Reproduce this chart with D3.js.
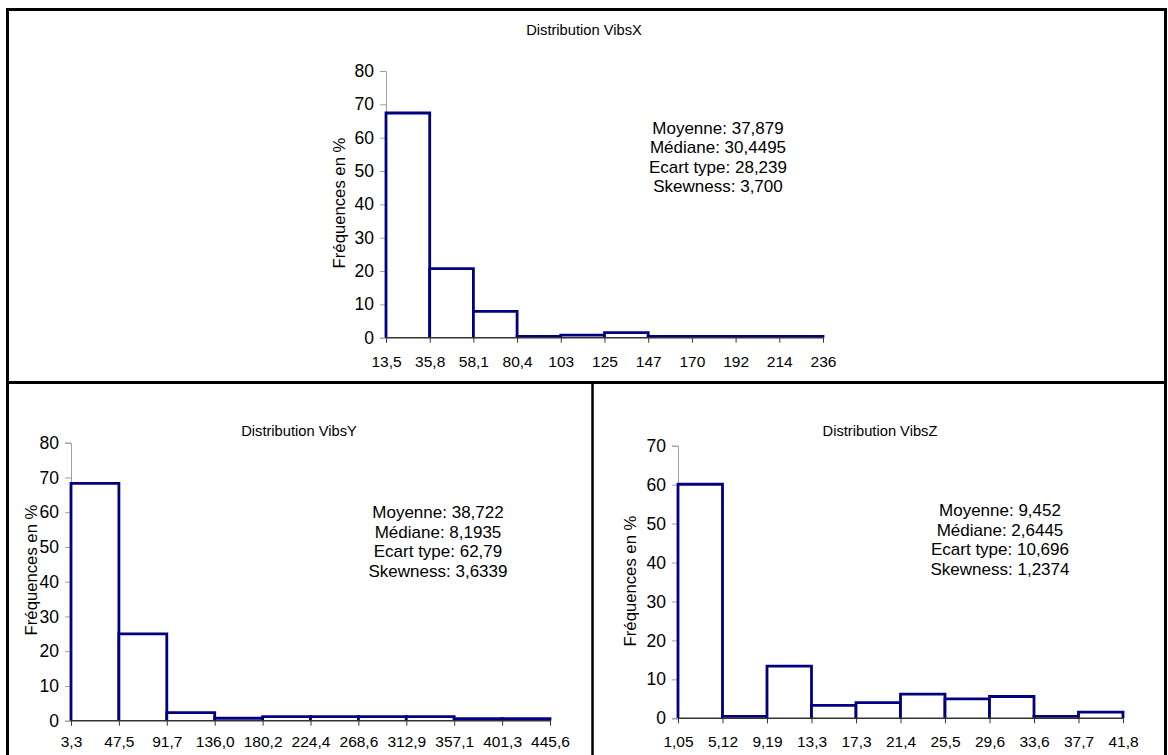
<!DOCTYPE html>
<html>
<head>
<meta charset="utf-8">
<script src="https://cdn.jsdelivr.net/npm/d3@7"></script>
<style>
  html, body { margin: 0; padding: 0; background: #fff; }
  svg { display: block; font-family: "Liberation Sans", Arial, sans-serif; }
</style>
</head>
<body>
<svg id="chart" width="1168" height="755"></svg>
<script>
// ---- Data ----
const edgesX = ["13,5", "35,8", "58,1", "80,4", "103", "125", "147", "170", "192", "214", "236"];
const freqX = [67.4, 20.7, 7.9, 0.4, 0.8, 1.5, 0.4, 0.4, 0.4, 0.4];
const statsX = ["Moyenne: 37,879", "Médiane: 30,4495", "Ecart type: 28,239", "Skewness: 3,700"];

const edgesY = ["3,3", "47,5", "91,7", "136,0", "180,2", "224,4", "268,6", "312,9", "357,1", "401,3", "445,6"];
const freqY = [68.3, 25.0, 2.3, 0.7, 1.2, 1.2, 1.2, 1.2, 0.6, 0.6];
const statsY = ["Moyenne: 38,722", "Médiane: 8,1935", "Ecart type: 62,79", "Skewness: 3,6339"];

const edgesZ = ["1,05", "5,12", "9,19", "13,3", "17,3", "21,4", "25,5", "29,6", "33,6", "37,7", "41,8"];
const freqZ = [60.1, 0.5, 13.4, 3.3, 4.0, 6.2, 5.0, 5.6, 0.5, 1.6];
const statsZ = ["Moyenne: 9,452", "Médiane: 2,6445", "Ecart type: 10,696", "Skewness: 1,2374"];

const titles = ["Distribution VibsX", "Distribution VibsY", "Distribution VibsZ"];
const yLabel = "Fréquences en %";
const yMaxes = [80, 80, 70];

// ---- Layout ----
const svg = d3.select("#chart");
const FONT = "Liberation Sans, Arial, sans-serif";

// panel borders
svg.append("rect").attr("x", 7.5).attr("y", 9.5).attr("width", 1158).attr("height", 760)
  .attr("fill", "none").attr("stroke", "#000").attr("stroke-width", 3);
svg.append("line").attr("x1", 7).attr("x2", 1166).attr("y1", 382.5).attr("y2", 382.5)
  .attr("stroke", "#000").attr("stroke-width", 3);
svg.append("line").attr("x1", 592.5).attr("x2", 592.5).attr("y1", 382).attr("y2", 760)
  .attr("stroke", "#000").attr("stroke-width", 2.5);

const panels = [
  { edges: edgesX, freq: freqX, stats: statsX, title: titles[0], yMax: yMaxes[0],
    x0: 386, x1: 823, y0: 337.7, y1: 71, titleX: 584, titleY: 35,
    ylabX: 339, ylabY: 203, statX: 718, statY: 133.5, xlabY: 367.5 },
  { edges: edgesY, freq: freqY, stats: statsY, title: titles[1], yMax: yMaxes[1],
    x0: 71, x1: 550, y0: 720.7, y1: 442.7, titleX: 299, titleY: 436,
    ylabX: 31, ylabY: 570, statX: 438, statY: 518, xlabY: 747.5 },
  { edges: edgesZ, freq: freqZ, stats: statsZ, title: titles[2], yMax: yMaxes[2],
    x0: 678, x1: 1123, y0: 718.3, y1: 445.7, titleX: 880, titleY: 436,
    ylabX: 630, ylabY: 581, statX: 1000, statY: 516, xlabY: 747.5 }
];

panels.forEach(p => {
  const n = p.freq.length;
  const x = d3.scaleLinear().domain([0, n]).range([p.x0, p.x1]);
  const y = d3.scaleLinear().domain([0, p.yMax]).range([p.y0, p.y1]);
  const g = svg.append("g");

  // title
  g.append("text").attr("x", p.titleX).attr("y", p.titleY)
    .attr("text-anchor", "middle").attr("font-size", 14.7).attr("fill", "#000").text(p.title);

  // y axis
  const yAxis = d3.axisLeft(y).tickValues(d3.range(0, p.yMax + 1, 10)).tickSize(6).tickPadding(6);
  const ya = g.append("g").attr("transform", `translate(${p.x0},0)`).call(yAxis);
  ya.select(".domain").attr("stroke", "#a0a0a0");
  ya.selectAll(".tick line").attr("stroke", "#a0a0a0");
  ya.selectAll("text").attr("font-size", 17.5).attr("fill", "#000").attr("font-family", FONT);

  // y label
  g.append("text").attr("transform", `translate(${p.ylabX},${p.ylabY}) rotate(-90)`)
    .attr("text-anchor", "middle").attr("dominant-baseline", "central")
    .attr("font-size", 16.7).attr("fill", "#000").text(yLabel);

  // bars (open at the bottom, outline on three sides)
  g.selectAll("path.bar").data(p.freq).join("path").attr("class", "bar")
    .attr("d", (d, i) => `M${x(i)},${y(0)}V${y(d)}H${x(i + 1)}V${y(0)}`)
    .attr("fill", "#fff").attr("stroke", "#000080").attr("stroke-width", 2.8)
    .attr("stroke-linejoin", "miter");

  // x axis
  const xAxis = d3.axisBottom(x).tickValues(d3.range(0, n + 1)).tickSize(5).tickPadding(10)
    .tickFormat(i => p.edges[i]);
  const xa = g.append("g").attr("transform", `translate(0,${p.y0})`).call(xAxis);
  xa.select(".domain").attr("stroke", "#333").attr("stroke-width", 1.5).attr("d", `M${p.x0},0H${p.x1}`);
  xa.selectAll(".tick line").attr("stroke", "#333");
  xa.selectAll("text").attr("font-size", 15.5).attr("fill", "#000").attr("font-family", FONT)
    .attr("dy", null).attr("y", p.xlabY - p.y0);

  // stats
  g.append("text").attr("font-size", 17).attr("fill", "#000").attr("text-anchor", "middle")
    .selectAll("tspan").data(p.stats).join("tspan")
    .attr("x", p.statX).attr("y", (d, i) => p.statY + i * 19.6).text(d => d);
});
</script>
</body>
</html>
